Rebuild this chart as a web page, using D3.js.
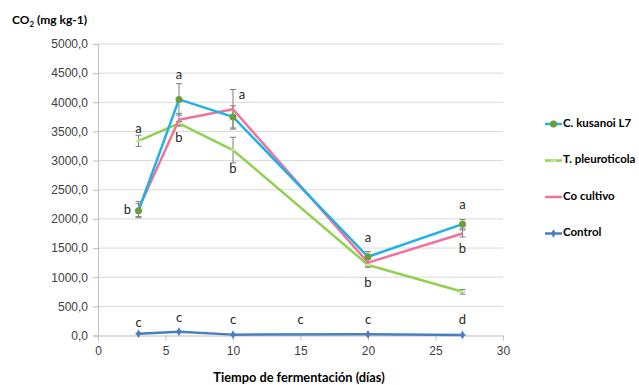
<!DOCTYPE html>
<html><head><meta charset="utf-8">
<script src="https://cdn.jsdelivr.net/npm/d3@7"></script>
<style>body{margin:0;background:#fff}svg{font-family:Lato,"Open Sans",sans-serif}</style>
</head><body><svg id="c" width="639" height="385"></svg>
<script>
const days = [3, 6, 10, 20, 27];
const seriesNames = ["C. kusanoi L7", "T. pleuroticola", "Co cultivo", "Control"];
const kusanoi = [2140, 4050, 3750, 1350, 1910];
const kusanoiErr = [120, 270, 190, 90, 80];
const pleuroticola = [3340, 3640, 3180, 1210, 750];
const pleuroticolaErr = [95, 30, 220, 40, 40];
const cocultivo = [2170, 3700, 3880, 1250, 1750];
const cocultivoErr = [130, 110, 340, 60, 60];
const control = [30, 65, 15, 20, 10];
const controlErr = [10, 10, 5, 5, 5];
const yTicks = [0, 500, 1000, 1500, 2000, 2500, 3000, 3500, 4000, 4500, 5000];
const xTicks = [0, 5, 10, 15, 20, 25, 30];
// significance letters: [day, value, letter]
const letters = [
  [3, 3530, "a"], [3, 2140, "b"], [3, 205, "c"],
  [6, 4450, "a"], [6, 3380, "b"], [6, 290, "c"],
  [10, 4110, "a"], [10, 2840, "b"], [10, 255, "c"],
  [15, 255, "c"],
  [20, 1660, "a"], [20, 890, "b"], [20, 255, "c"],
  [27, 2230, "a"], [27, 1470, "b"], [27, 255, "d"]
];
const letterDx = {"3,b": -11, "10,a": 9};

const svg = d3.select("#c");
const x = d3.scaleLinear().domain([0, 30]).range([98, 503]);
const y = d3.scaleLinear().domain([0, 5000]).range([335.5, 44]);
const fmt = v => d3.format(".1f")(v).replace(".", ",");

// gridlines
svg.append("g").selectAll("line").data(yTicks.filter(d => d > 0)).join("line")
  .attr("x1", x(0)).attr("x2", x(30)).attr("y1", d => y(d)).attr("y2", d => y(d))
  .attr("stroke", "#d9d9d9").attr("stroke-width", 1);

// y axis
const ya = svg.append("g").attr("transform", `translate(${x(0)},0)`)
  .call(d3.axisLeft(y).tickValues(yTicks).tickFormat(fmt).tickSize(5).tickPadding(5));
ya.select(".domain").attr("stroke", "#bfbfbf");
ya.selectAll(".tick line").attr("stroke", "#bfbfbf");
ya.selectAll("text").attr("font-size", 12).attr("fill", "#404040");

// x axis
const xa = svg.append("g").attr("transform", `translate(0,${y(0)})`)
  .call(d3.axisBottom(x).tickValues(xTicks).tickSize(5).tickPadding(6));
xa.select(".domain").attr("stroke", "#bfbfbf");
xa.selectAll(".tick line").attr("stroke", "#bfbfbf");
xa.selectAll("text").attr("font-size", 12).attr("fill", "#404040");

const series = [
  {name: seriesNames[0], vals: kusanoi, err: kusanoiErr, color: "#1fb2e6", marker: "circle", mcolor: "#6a9f38"},
  {name: seriesNames[1], vals: pleuroticola, err: pleuroticolaErr, color: "#92d050", marker: "dash", mcolor: "#c6e6a6"},
  {name: seriesNames[2], vals: cocultivo, err: cocultivoErr, color: "#f2719a", marker: "none", mcolor: "#f2719a"},
  {name: seriesNames[3], vals: control, err: controlErr, color: "#4a7fbf", marker: "diamond", mcolor: "#4a7fbf"}
];
const line = d3.line().x((d, i) => x(days[i])).y(d => y(d));

// error bars
series.forEach(s => {
  const g = svg.append("g");
  s.vals.forEach((v, i) => {
    const cx = x(days[i]), y1 = y(v + s.err[i]), y2 = y(v - s.err[i]);
    g.append("line").attr("x1", cx).attr("x2", cx).attr("y1", y1).attr("y2", y2).attr("stroke", "#7f7f7f").attr("stroke-width", 1);
    [y1, y2].forEach(yy => g.append("line").attr("x1", cx - 3).attr("x2", cx + 3).attr("y1", yy).attr("y2", yy).attr("stroke", "#7f7f7f").attr("stroke-width", 1));
  });
});

function drawMarker(g, s, cx, cy) {
  if (s.marker === "circle") g.append("circle").attr("cx", cx).attr("cy", cy).attr("r", 3.5).attr("fill", s.mcolor);
  else if (s.marker === "diamond") g.append("path").attr("d", d3.symbol(d3.symbolDiamond, 22)()).attr("transform", `translate(${cx},${cy})`).attr("fill", s.mcolor);
  else if (s.marker === "dash") g.append("line").attr("x1", cx - 3).attr("x2", cx + 3).attr("y1", cy).attr("y2", cy).attr("stroke", s.mcolor).attr("stroke-width", 2);
}

// lines, drawn in reverse so kusanoi on top
[series[3], series[1], series[2], series[0]].forEach(s => {
  const g = svg.append("g");
  g.append("path").datum(s.vals).attr("d", line).attr("fill", "none").attr("stroke", s.color).attr("stroke-width", 2.5).attr("stroke-linejoin", "round");
  s.vals.forEach((v, i) => drawMarker(g, s, x(days[i]), y(v)));
});

// letters
svg.append("g").selectAll("text").data(letters).join("text")
  .attr("x", d => x(d[0]) + (letterDx[d[0] + "," + d[2]] || 0))
  .attr("y", d => y(d[1]))
  .attr("text-anchor", "middle").attr("dominant-baseline", "middle")
  .attr("font-size", 13).attr("fill", "#262626").text(d => d[2]);

// legend
const legY = [124, 160.5, 197, 233.5];
series.forEach((s, i) => {
  const g = svg.append("g").attr("transform", `translate(0,${legY[i]})`);
  g.append("line").attr("x1", 545).attr("x2", 562).attr("y1", 0).attr("y2", 0).attr("stroke", s.color).attr("stroke-width", 2.5);
  drawMarker(g, s, 553.5, 0);
  g.append("text").attr("x", 563).attr("y", 0).attr("dominant-baseline", "middle")
    .attr("font-size", 11.5).attr("font-weight", "bold").attr("fill", "#000").text(s.name);
});

// titles
const yt = svg.append("text").attr("x", 12).attr("y", 24).attr("font-size", 12).attr("font-weight", "bold").attr("fill", "#000");
yt.append("tspan").text("CO");
yt.append("tspan").attr("font-size", 8).attr("dy", 3).text("2");
yt.append("tspan").attr("dy", -3).text(" (mg kg-1)");
svg.append("text").attr("x", 299).attr("y", 382).attr("text-anchor", "middle").attr("font-size", 12.8).attr("font-weight", "bold").attr("fill", "#000").text("Tiempo de fermentación (días)");
</script></body></html>
